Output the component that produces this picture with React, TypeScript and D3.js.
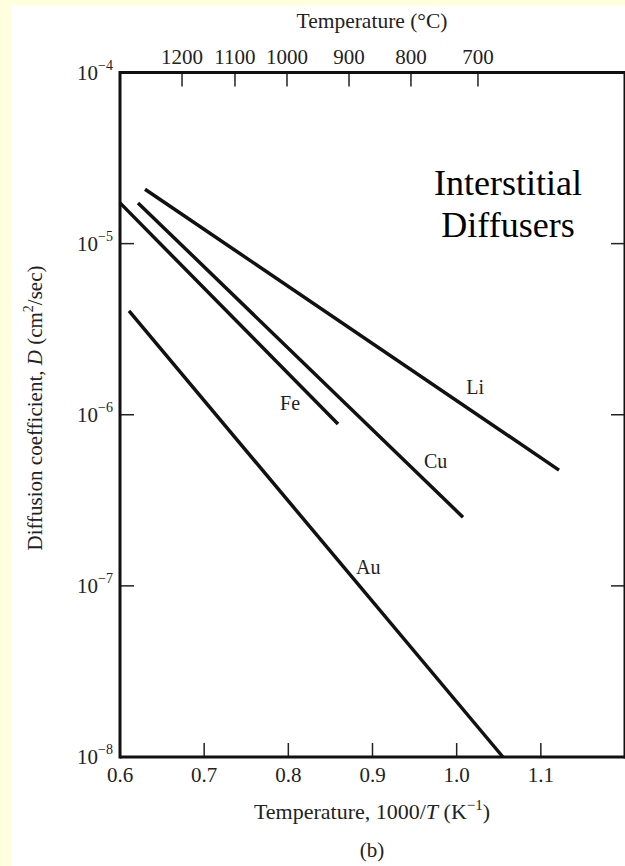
import React from "react";
import * as d3 from "d3";

const W = 625;
const H = 866;

// Series: [1000/T, D (cm^2/s)] endpoints
const seriesNames = ["Li", "Cu", "Fe", "Au"];
const seriesX = [
  [0.6297, 1.1216],
  [0.6214, 1.0075],
  [0.6, 0.859],
  [0.6107, 1.055],
];
const seriesY = [
  [2.08e-5, 4.75e-7],
  [1.73e-5, 2.52e-7],
  [1.73e-5, 8.83e-7],
  [4.04e-6, 1.0e-8],
];
// label anchors in data units
const labelX = [1.022, 0.975, 0.802, 0.895];
const labelY = [1.45e-6, 5.36e-7, 1.17e-6, 1.29e-7];

const xTicks = [0.6, 0.7, 0.8, 0.9, 1.0, 1.1];
const xTickLabels = ["0.6", "0.7", "0.8", "0.9", "1.0", "1.1"];
const yTickExps = [-4, -5, -6, -7, -8];
// top (Celsius) axis: labels and their positions on the 1000/T axis as drawn in the picture
const celsiusLabels = ["1200", "1100", "1000", "900", "800", "700"];
const celsiusPos = [0.6737, 0.7366, 0.7984, 0.8721, 0.9457, 1.0253];

const font = "'Liberation Serif', 'DejaVu Serif', serif";

export default function App() {
  const x = d3.scaleLinear().domain([0.6, 1.2]).range([120, 625]);
  const y = d3.scaleLog().domain([1e-8, 1e-4]).range([757, 72.5]);
  const line = d3
    .line<[number, number]>()
    .x((d) => x(d[0]))
    .y((d) => y(d[1]));

  const x0 = x(0.6);
  const x1 = x(1.2);
  const yTop = y(1e-4);
  const yBot = y(1e-8);

  return (
    <svg
      width={W}
      height={H}
      style={{ position: "absolute", left: 0, top: 0, display: "block" }}
      fontFamily={font}
    >
      <rect x={0} y={0} width={W} height={H} fill="#ffffff" />
      <rect x={0} y={0} width={W} height={5} fill="#ffffe0" />
      <rect x={0} y={0} width={12} height={H} fill="#ffffe0" />

      {/* top axis title */}
      <text x={372} y={28} textAnchor="middle" fontSize={21.5} fill="#222">
        Temperature (°C)
      </text>

      {/* Celsius ticks */}
      {celsiusLabels.map((c, i) => {
        const xv = x(celsiusPos[i]);
        return (
          <g key={c}>
            <line x1={xv} x2={xv} y1={yTop} y2={yTop + 14} stroke="#222" strokeWidth={1.5} />
            <text x={xv} y={64} textAnchor="middle" fontSize={21} fill="#222">
              {c}
            </text>
          </g>
        );
      })}

      {/* bottom ticks */}
      {xTicks.map((t, i) => (
        <g key={t}>
          {i > 0 && (
            <line x1={x(t)} x2={x(t)} y1={yBot} y2={yBot - 14} stroke="#222" strokeWidth={1.5} />
          )}
          <text x={x(t)} y={782} textAnchor="middle" fontSize={21} fill="#222">
            {xTickLabels[i]}
          </text>
        </g>
      ))}

      {/* y ticks */}
      {yTickExps.map((e) => {
        const yv = y(Math.pow(10, e));
        return (
          <g key={e}>
            {e !== -4 && e !== -8 && (
              <>
                <line x1={x0} x2={x0 + 14} y1={yv} y2={yv} stroke="#222" strokeWidth={1.5} />
                <line x1={x1} x2={x1 - 14} y1={yv} y2={yv} stroke="#222" strokeWidth={1.5} />
              </>
            )}
            <text x={113} y={yv + 7} textAnchor="end" fontSize={21} fill="#222">
              10
              <tspan dy={-10} fontSize={14}>
                {"\u2212" + Math.abs(e)}
              </tspan>
            </text>
          </g>
        );
      })}

      {/* frame */}
      <line x1={x0} x2={x0} y1={yTop - 1.5} y2={yBot + 1.5} stroke="#111" strokeWidth={3} />
      <line x1={x1} x2={x1} y1={yTop - 1.5} y2={yBot + 1.5} stroke="#111" strokeWidth={3} />
      <line x1={x0} x2={x1} y1={yTop} y2={yTop} stroke="#111" strokeWidth={3} />
      <line x1={x0} x2={x1} y1={yBot} y2={yBot} stroke="#111" strokeWidth={3} />

      {/* data lines */}
      {seriesNames.map((n, i) => (
        <g key={n}>
          <path
            d={line([
              [seriesX[i][0], seriesY[i][0]],
              [seriesX[i][1], seriesY[i][1]],
            ]) as string}
            stroke="#111"
            strokeWidth={3.5}
            fill="none"
          />
          <text
            x={x(labelX[i])}
            y={y(labelY[i]) + 7}
            textAnchor="middle"
            fontSize={20}
            fill="#222"
          >
            {n}
          </text>
        </g>
      ))}

      {/* annotation */}
      <text x={508} y={195} textAnchor="middle" fontSize={36} fill="#000">
        Interstitial
      </text>
      <text x={508} y={237} textAnchor="middle" fontSize={36} fill="#000">
        Diffusers
      </text>

      {/* x axis title */}
      <text x={372} y={819} textAnchor="middle" fontSize={22} fill="#222">
        Temperature, 1000/<tspan fontStyle="italic">T</tspan> (K
        <tspan dy={-9} fontSize={15}>
          {"\u22121"}
        </tspan>
        <tspan dy={9}>)</tspan>
      </text>
      <text x={372} y={857} textAnchor="middle" fontSize={21} fill="#222">
        (b)
      </text>

      {/* y axis title */}
      <text
        transform={`translate(42, 408) rotate(-90)`}
        textAnchor="middle"
        fontSize={21}
        fill="#222"
      >
        Diffusion coefficient, <tspan fontStyle="italic">D</tspan> (cm
        <tspan dy={-9} fontSize={14}>
          2
        </tspan>
        <tspan dy={9}>/sec)</tspan>
      </text>
    </svg>
  );
}
